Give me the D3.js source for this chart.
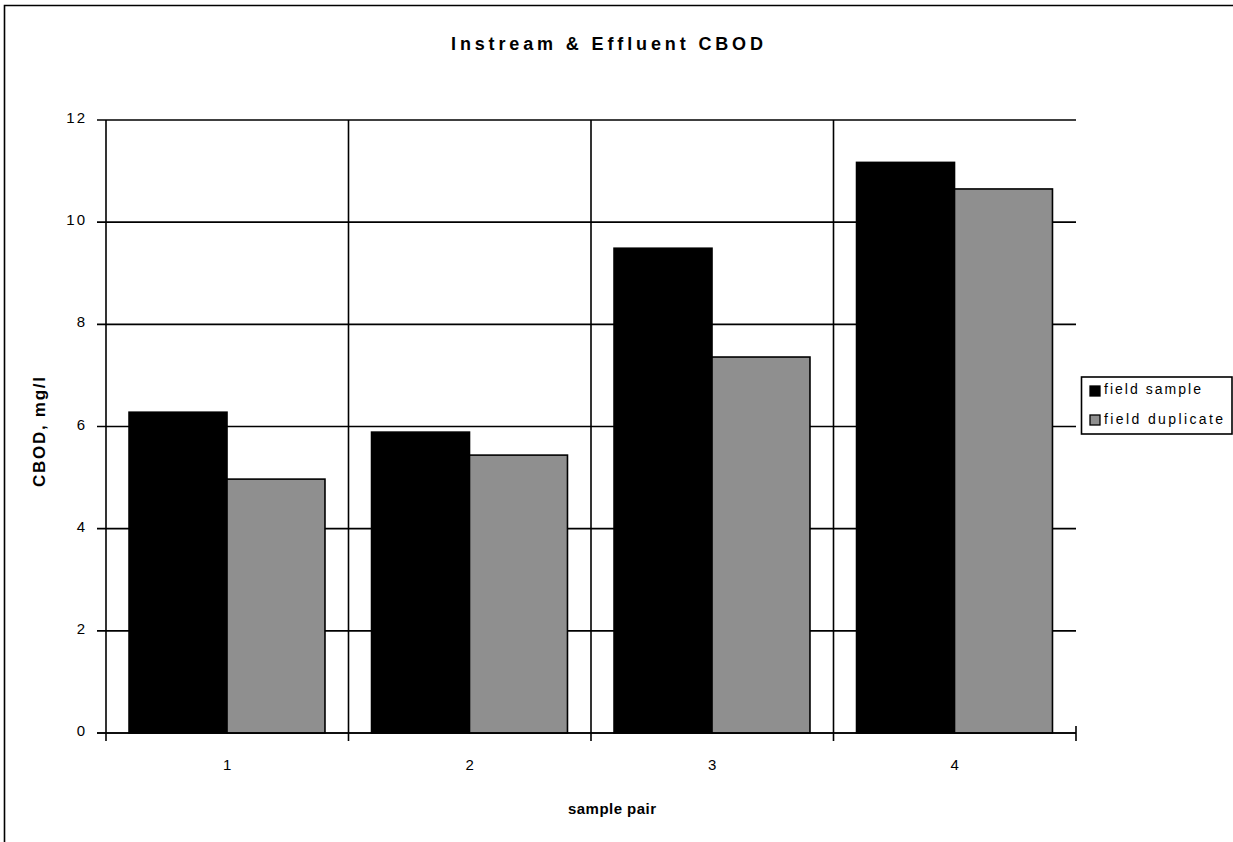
<!DOCTYPE html>
<html><head><meta charset="utf-8">
<script src="https://cdn.jsdelivr.net/npm/d3@7"></script>
<style>
html,body{margin:0;padding:0;background:#fff;overflow:hidden;}
svg{display:block;font-family:"Liberation Sans",Arial,sans-serif;}
</style></head>
<body><svg id="c" width="1233" height="842"></svg>
<script>
const categories = ["1","2","3","4"];
const seriesNames = ["field sample","field duplicate"];
const fieldSample = [6.28, 5.89, 9.49, 11.17];
const fieldDuplicate = [4.97, 5.44, 7.36, 10.65];
const yTicks = [0,2,4,6,8,10,12];
const colors = ["#000000","#8f8f8f"];

const svg = d3.select("#c");
const X0 = 106, X1 = 1076, Y0 = 733, Y1 = 120;
const lineW = 1.6;

// outer border (top and left edges visible)
svg.append("path").attr("d","M4.5,850V5.5H1240")
  .attr("fill","none").attr("stroke","#000").attr("stroke-width",1.6);

const x = d3.scaleBand().domain(categories).range([X0,X1]).padding(0);
const bw = x.bandwidth();
const xs = d3.scaleBand().domain(seriesNames).range([bw*0.095, bw*0.903]).padding(0);
const y = d3.scaleLinear().domain([0,12]).range([Y0,Y1]);

// horizontal gridlines + y ticks
svg.append("g").selectAll("line").data(yTicks).join("line")
  .attr("x1",X0-9).attr("x2",X1).attr("y1",d=>y(d)).attr("y2",d=>y(d))
  .attr("stroke","#000").attr("stroke-width",lineW);

// y tick labels
svg.append("g").selectAll("text").data(yTicks).join("text")
  .attr("x",87).attr("y",d=>y(d)+3).attr("text-anchor","end")
  .attr("font-size",15).attr("letter-spacing","2px").attr("fill","#000")
  .text(d=>d);

// vertical gridlines at category boundaries
const bounds = categories.map(c=>x(c)).concat([X1]);
svg.append("g").selectAll("line").data(bounds).join("line")
  .attr("x1",d=>d).attr("x2",d=>d)
  .attr("y1",(d,i)=> i===bounds.length-1 ? Y0-7 : Y1)
  .attr("y2",Y0+8)
  .attr("stroke","#000").attr("stroke-width",lineW);

// bars
const rows = categories.map((c,i)=>({cat:c, vals:[fieldSample[i], fieldDuplicate[i]]}));
const g = svg.append("g");
rows.forEach(r=>{
  r.vals.forEach((v,j)=>{
    g.append("rect")
      .attr("x", x(r.cat)+xs(seriesNames[j]))
      .attr("y", y(v))
      .attr("width", xs.bandwidth())
      .attr("height", Y0 - y(v))
      .attr("fill", colors[j])
      .attr("stroke","#000").attr("stroke-width",lineW);
  });
});
svg.append("line").attr("x1",X0-9).attr("x2",X1).attr("y1",Y0).attr("y2",Y0)
  .attr("stroke","#000").attr("stroke-width",lineW);

// x tick labels
svg.append("g").selectAll("text").data(categories).join("text")
  .attr("x",d=>x(d)+bw/2).attr("y",770).attr("text-anchor","middle")
  .attr("font-size",15).attr("fill","#000").text(d=>d);

// title
svg.append("text").attr("x",607).attr("y",50).attr("text-anchor","middle")
  .attr("font-size",18).attr("font-weight","bold")
  .attr("textLength",312).attr("lengthAdjust","spacing")
  .text("Instream & Effluent CBOD");

// axis titles
svg.append("text").attr("x",612).attr("y",814).attr("text-anchor","middle")
  .attr("font-size",15).attr("font-weight","bold")
  .attr("textLength",88).attr("lengthAdjust","spacing")
  .text("sample pair");
svg.append("text").attr("transform","translate(45,432) rotate(-90)")
  .attr("text-anchor","middle").attr("font-size",17).attr("font-weight","bold")
  .attr("textLength",110).attr("lengthAdjust","spacing")
  .text("CBOD, mg/l");

// legend
const lg = svg.append("g");
lg.append("rect").attr("x",1081.5).attr("y",377).attr("width",150.5).attr("height",57)
  .attr("fill","#fff").attr("stroke","#000").attr("stroke-width",lineW);
const legY = [386, 415], legTextY = [394, 424], legLen = [97, 119];
seriesNames.forEach((s,i)=>{
  lg.append("rect").attr("x",1090).attr("y",legY[i]).attr("width",10).attr("height",10)
    .attr("fill",colors[i]).attr("stroke","#000").attr("stroke-width",1.3);
  lg.append("text").attr("x",1104).attr("y",legTextY[i]).attr("font-size",14)
    .attr("textLength",legLen[i]).attr("lengthAdjust","spacing").text(s);
});
</script></body></html>
